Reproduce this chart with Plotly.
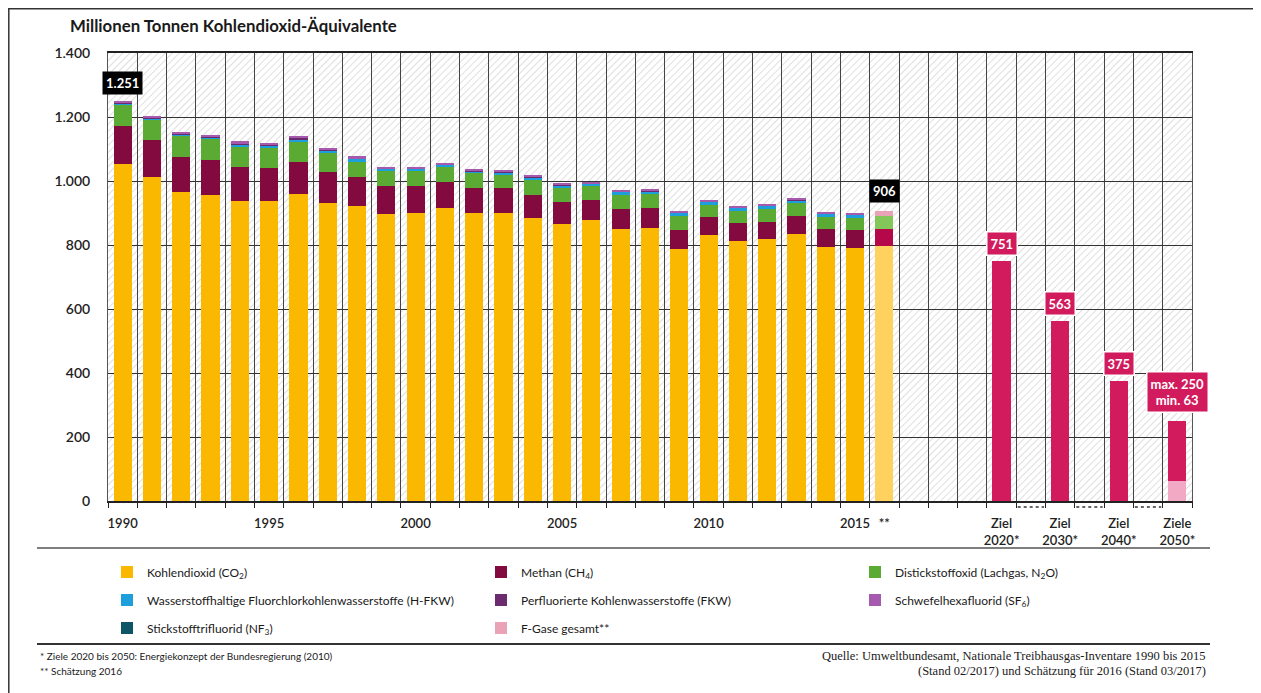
import base64
import plotly.graph_objects as go

# ---------------- data ----------------
hist_labels = ["1990", "1991", "1992", "1993", "1994", "1995", "1996", "1997", "1998", "1999",
               "2000", "2001", "2002", "2003", "2004", "2005", "2006", "2007", "2008", "2009",
               "2010", "2011", "2012", "2013", "2014", "2015", "**"]
co2 = [1052, 1014, 966, 956, 939, 938, 958, 930, 922, 896, 900, 915, 899, 900, 885, 866,
       878, 850, 853, 788, 832, 813, 818, 834, 795, 792, 796]
ch4 = [120, 113, 109, 110, 106, 103, 101, 97, 91, 89, 85, 83, 80, 77, 71, 67,
       63, 62, 62, 59, 57, 57, 55, 57, 54, 55, 53]
n2o = [66, 64, 66, 64, 62, 61, 64, 62, 47, 46, 47, 45, 45, 42, 47, 44,
       43, 44, 43, 45, 37, 37, 39, 39, 39, 38, 42]
hfkw = [5.5, 5.0, 5.5, 7.0, 8.5, 9.0, 8.0, 7.5, 9.0, 7.0, 5.5, 7.5, 7.0, 8.5, 9.0, 10.0,
        9.0, 10.0, 10.5, 10.0, 10.5, 11.0, 10.5, 10.5, 11.0, 11.0, None]
fkw = [3.1, 2.8, 2.6, 2.4, 2.2, 1.8, 1.9, 1.8, 2.0, 1.4, 0.8, 0.8, 0.8, 0.8, 0.7, 0.7,
       0.6, 0.5, 0.4, 0.4, 0.3, 0.3, 0.3, 0.3, 0.3, 0.3, None]
sf6 = [4.4, 4.6, 5.0, 5.5, 6.0, 6.5, 6.5, 6.0, 6.0, 5.0, 4.5, 5.0, 4.0, 4.0, 4.5, 4.5,
       3.5, 4.0, 4.5, 4.0, 4.5, 4.5, 4.0, 4.0, 4.0, 4.0, None]
nf3 = [0.0, 0.0, 0.0, 0.0, 0.0, 0.0, 0.0, 0.0, 0.0, 0.0, 0.0, 0.0, 0.0, 0.0, 0.0, 0.0,
       0.0, 0.0, 0.0, 0.0, 0.0, 0.0, 0.0, 0.0, 0.0, 0.0, None]
fgas_total = [None] * 26 + [15]

target_labels = ["Ziel<br>2020*", "Ziel<br>2030*", "Ziel<br>2040*", "Ziele<br>2050*"]
target_max = [751, 563, 375, 250]
target_min = [None, None, None, 63]

tick_years = ["1990", "1995", "2000", "2005", "2010", "2015", "**"]

# ---------------- positions ----------------
n_hist = len(hist_labels)
hist_x = list(range(n_hist))
target_x = [n_hist + 3 + 2 * i for i in range(len(target_labels))]
x_max = target_x[-1] + 0.5

tickvals = [hist_labels.index(t) for t in tick_years] + target_x
ticktext = tick_years + target_labels

# colours
C_CO2, C_CH4, C_N2O = "#FBB800", "#820A3E", "#5BAA33"
C_CO2_L, C_CH4_L, C_N2O_L = "#FFD260", "#B5084A", "#83C65A"
C_HFKW, C_FKW, C_SF6, C_NF3, C_FG = "#1C9FDB", "#6A2C6E", "#A55AAE", "#0D5567", "#EAA2B6"
C_TGT, C_TGT_L = "#D21B5D", "#F2A9C4"

def per_point(base, last):
    return [base] * (n_hist - 1) + [last]

FONT = "Lato, 'Open Sans', sans-serif"
SERIF = "'Liberation Serif', 'DejaVu Serif', serif"

# page offset (browser body margin) and plot-area geometry, in reference pixels
OFF = 8
W, H = 1261 - OFF, 693 - OFF
L, R, T, B = 108 - OFF, 69, 53 - OFF, 192
PW, PH = W - L - R, H - T - B

def px(xp):
    return (xp - OFF - L) / PW

def py(yp):
    return (H - B - (yp - OFF)) / PH

fig = go.Figure()

stack = [
    ("Kohlendioxid (CO<sub>2</sub>)", co2, per_point(C_CO2, C_CO2_L), "legend"),
    ("Methan (CH<sub>4</sub>)", ch4, per_point(C_CH4, C_CH4_L), "legend"),
    ("Distickstoffoxid (Lachgas, N<sub>2</sub>O)", n2o, per_point(C_N2O, C_N2O_L), "legend"),
    ("Wasserstoffhaltige Fluorchlorkohlenwasserstoffe (H-FKW)", hfkw, C_HFKW, "legend2"),
    ("Perfluorierte Kohlenwasserstoffe (FKW)", fkw, C_FKW, "legend2"),
    ("Schwefelhexafluorid (SF<sub>6</sub>)", sf6, C_SF6, "legend2"),
    ("Stickstofftrifluorid (NF<sub>3</sub>)", nf3, C_NF3, "legend3"),
    ("F-Gase gesamt**", fgas_total, C_FG, "legend3"),
]
for name, vals, col, lg in stack:
    fig.add_trace(go.Bar(x=hist_x, y=vals, name=name, marker=dict(color=col, line=dict(width=0)),
                         legend=lg, showlegend=True))

target_low = [m if m is not None else 0 for m in target_min]
target_high = [mx - lo for mx, lo in zip(target_max, target_low)]
fig.add_trace(go.Bar(x=target_x, y=target_min, marker=dict(color=C_TGT_L, line=dict(width=0)),
                     showlegend=False, name="min"))
fig.add_trace(go.Bar(x=target_x, y=target_high, marker=dict(color=C_TGT, line=dict(width=0)),
                     showlegend=False, name="Ziel"))

# ---------------- hatch background ----------------
svg = (f"<svg xmlns='http://www.w3.org/2000/svg' width='{PW}' height='{PH}'>"
       "<defs><pattern id='h' width='5' height='5' patternUnits='userSpaceOnUse' "
       "patternTransform='rotate(45)'><line x1='0' y1='0' x2='0' y2='5' stroke='#cdcdcd' "
       "stroke-width='1.3'/></pattern></defs>"
       "<rect width='100%' height='100%' fill='#ffffff'/>"
       "<rect width='100%' height='100%' fill='url(#h)'/></svg>")
src = "data:image/svg+xml;base64," + base64.b64encode(svg.encode()).decode()

# ---------------- annotations ----------------
def de(v):
    return f"{round(v):,}".replace(",", ".")

totals = []
for i in range(n_hist):
    s = 0
    for _, vals, _, _ in stack:
        if vals[i] is not None:
            s += vals[i]
    totals.append(s)

annotations = []
for i, yshift in [(0, 6), (n_hist - 1, 8)]:
    annotations.append(dict(x=hist_x[i], y=totals[i], xref="x", yref="y", text=f"<b>{de(totals[i])}</b>",
                            showarrow=False, yanchor="bottom", yshift=yshift, bgcolor="#000000",
                            font=dict(family=FONT, size=13, color="white"), borderpad=3))
for j, (xv, mx, mn) in enumerate(zip(target_x, target_max, target_min)):
    txt = f"<b>{de(mx)}</b>" if mn is None else f"<b>max. {de(mx)}<br>min. {de(mn)}</b>"
    annotations.append(dict(x=xv, y=mx, xref="x", yref="y", text=txt, showarrow=False,
                            yanchor="bottom", yshift=5 if mn is None else 8, bgcolor=C_TGT,
                            bordercolor="white", borderwidth=1.5, borderpad=3,
                            font=dict(family=FONT, size=13, color="white")))

annotations += [
    dict(xref="paper", yref="paper", x=px(68), y=py(25), xanchor="left", yanchor="middle",
         text="<b>Millionen Tonnen Kohlendioxid-Äquivalente</b>", showarrow=False,
         font=dict(family=FONT, size=16.8, color="#1a1a1a")),
    dict(xref="paper", yref="paper", x=px(38), y=py(656), xanchor="left", yanchor="middle",
         text="* Ziele 2020 bis 2050: Energiekonzept der Bundesregierung (2010)", showarrow=False,
         font=dict(family=FONT, size=10, color="#1a1a1a")),
    dict(xref="paper", yref="paper", x=px(38), y=py(671), xanchor="left", yanchor="middle",
         text="** Schätzung 2016", showarrow=False,
         font=dict(family=FONT, size=10, color="#1a1a1a")),
    dict(xref="paper", yref="paper", x=px(1208), y=py(656), xanchor="right", yanchor="middle",
         text="Quelle: Umweltbundesamt, Nationale Treibhausgas-Inventare 1990 bis 2015", showarrow=False,
         font=dict(family=SERIF, size=12.5, color="#1a1a1a")),
    dict(xref="paper", yref="paper", x=px(1208), y=py(671), xanchor="right", yanchor="middle",
         text="(Stand 02/2017) und Schätzung für 2016 (Stand 03/2017)", showarrow=False,
         font=dict(family=SERIF, size=12.5, color="#1a1a1a")),
]

# ---------------- shapes ----------------
shapes = [
    dict(type="line", xref="paper", yref="paper", x0=px(37), x1=px(1210), y0=py(548), y1=py(548),
         line=dict(color="#555", width=1.5)),
    dict(type="line", xref="paper", yref="paper", x0=px(37), x1=px(1210), y0=py(644), y1=py(644),
         line=dict(color="#333", width=2.2)),
    dict(type="line", xref="paper", yref="paper", x0=px(8.8), x1=px(8.8), y0=py(8), y1=py(700),
         line=dict(color="#333", width=1.5)),
    dict(type="line", xref="paper", yref="paper", x0=px(8), x1=px(1261), y0=py(8.8), y1=py(8.8),
         line=dict(color="#333", width=1.5)),
]
for xv in target_x[:-1]:
    shapes.append(dict(type="line", xref="x", yref="paper", x0=xv + 0.55, x1=xv + 1.45,
                       y0=py(507), y1=py(507), line=dict(color="#333", width=1.5, dash="dot")))

# legends sit just left of the plot's left edge (x < 0) so each row can hold three entries
legend_common = dict(orientation="h", xref="paper", yref="paper", xanchor="left",
                     yanchor="middle", entrywidth=329, entrywidthmode="pixels",
                     bgcolor="rgba(0,0,0,0)", font=dict(family=FONT, size=12, color="#1a1a1a"),
                     itemwidth=30, traceorder="normal")

fig.update_layout(
    width=W, height=H, autosize=False,
    margin=dict(l=L, r=R, t=T, b=B, autoexpand=False),
    paper_bgcolor="white", plot_bgcolor="white",
    barmode="stack", bargap=0.38,
    separators=",.",
    font=dict(family=FONT, color="#222"),
    images=[dict(source=src, xref="paper", yref="paper", x=0, y=1, sizex=1, sizey=1,
                 xanchor="left", yanchor="top", sizing="stretch", layer="below")],
    xaxis=dict(range=[-0.5, x_max], tickmode="array", tickvals=tickvals, ticktext=ticktext,
               ticks="", showgrid=False, zeroline=False, showline=True, linecolor="#222",
               linewidth=1.5, mirror=True, ticklabelstandoff=10,
               tickfont=dict(family=FONT, size=13, color="#222", weight=600),
               minor=dict(tick0=-0.5, dtick=1, showgrid=True, gridcolor="#444", gridwidth=1,
                          ticks="outside", ticklen=5, tickcolor="#222", tickwidth=1.2)),
    yaxis=dict(range=[0, 1400], dtick=200, tickformat=",d", showgrid=True, gridcolor="#333",
               gridwidth=1.1, zeroline=False, showline=True, linecolor="#555", mirror=True,
               ticks="", ticklabelstandoff=14,
               tickfont=dict(family=FONT, size=14, color="#222", weight=600)),
    legend=dict(legend_common, x=px(107), y=py(572)),
    legend2=dict(legend_common, x=px(107), y=py(600)),
    legend3=dict(legend_common, x=px(107), y=py(628)),
    annotations=annotations,
    shapes=shapes,
)

fig.write_html("out.html")
